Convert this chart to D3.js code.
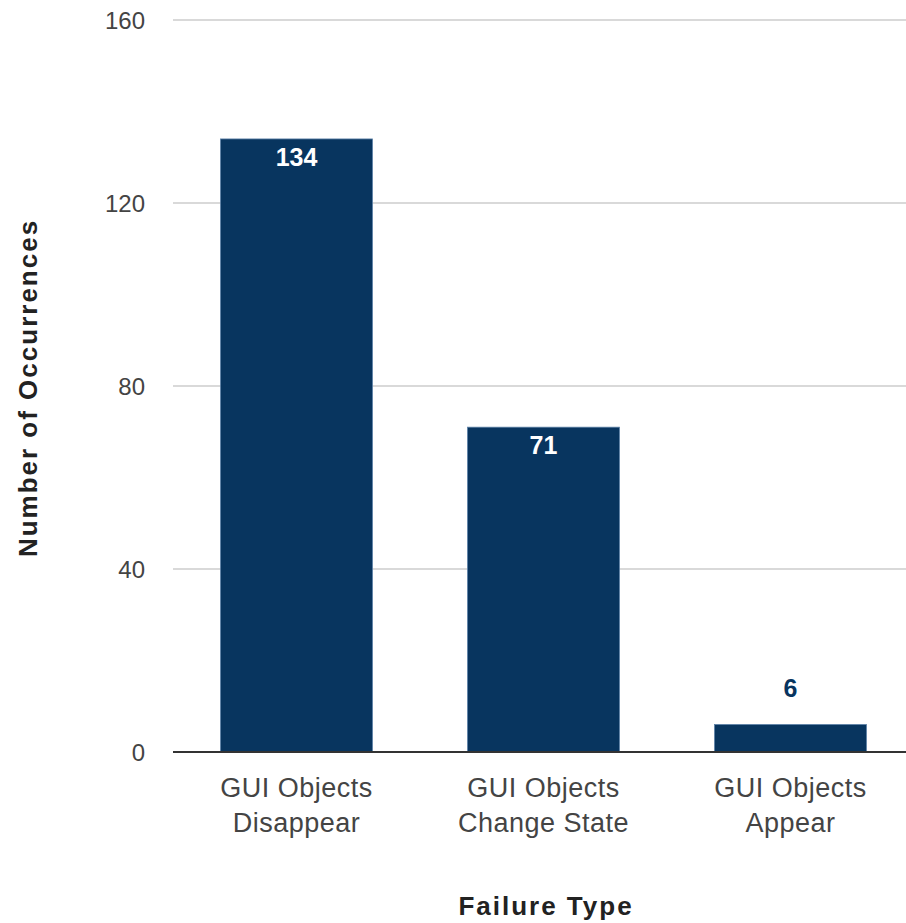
<!DOCTYPE html>
<html><head><meta charset="utf-8">
<script src="https://cdn.jsdelivr.net/npm/d3@7"></script>
<style>body{margin:0;background:#fff}svg{display:block}</style>
</head><body>
<svg id="c" width="906" height="923"></svg>
<script>
const categories = [["GUI Objects","Disappear"],["GUI Objects","Change State"],["GUI Objects","Appear"]];
const values = [134, 71, 6];
const yTicks = [0, 40, 80, 120, 160];
const yTitle = "Number of Occurrences";
const xTitle = "Failure Type";

(function () {
const svg = d3.select("#c");
const font = "Liberation Sans, Arial, sans-serif";
const mLeft = 173, mRight = 914, mTop = 20, mBottom = 752;
const x = d3.scaleBand().domain(d3.range(values.length)).range([mLeft, mRight]).paddingInner(0.385).paddingOuter(0.1925);
const y = d3.scaleLinear().domain([0, 160]).range([mBottom, mTop]);

svg.append("g").selectAll("line").data(yTicks.filter(t => t > 0)).join("line")
  .attr("x1", mLeft).attr("x2", 906).attr("y1", d => y(d)).attr("y2", d => y(d))
  .attr("stroke", "#cccccc").attr("stroke-width", 1.3);

svg.append("g").selectAll("text").data(yTicks).join("text")
  .attr("x", 145).attr("y", d => y(d)).attr("dy", "0.36em")
  .attr("text-anchor", "end").attr("font-family", font).attr("font-size", 24)
  .attr("fill", "#444").text(d => d);

svg.append("g").selectAll("rect").data(values).join("rect")
  .attr("x", (d, i) => x(i)).attr("width", x.bandwidth())
  .attr("y", d => y(d)).attr("height", d => y(0) - y(d))
  .attr("fill", "#08355f").attr("stroke", "#5a7fa6").attr("stroke-width", 0.8);

svg.append("line").attr("x1", mLeft).attr("x2", 906).attr("y1", y(0)).attr("y2", y(0))
  .attr("stroke", "#333").attr("stroke-width", 2);

svg.append("g").selectAll("text").data(values).join("text")
  .attr("x", (d, i) => x(i) + x.bandwidth() / 2)
  .attr("y", d => (y(0) - y(d) > 40) ? y(d) + 27 : y(d) - 28)
  .attr("text-anchor", "middle").attr("font-family", font).attr("font-size", 25).attr("font-weight", "bold")
  .attr("fill", d => (y(0) - y(d) > 40) ? "#ffffff" : "#08355f")
  .text(d => d);

const xl = svg.append("g").selectAll("text").data(categories).join("text")
  .attr("text-anchor", "middle").attr("font-family", font).attr("font-size", 27)
  .attr("letter-spacing", 0.5).attr("fill", "#444");
xl.each(function(d, i) {
  const t = d3.select(this);
  d.forEach((line, j) => {
    t.append("tspan").attr("x", x(i) + x.bandwidth() / 2).attr("y", 797 + j * 35).text(line);
  });
});

svg.append("text").attr("x", 546).attr("y", 915).attr("text-anchor", "middle")
  .attr("font-family", font).attr("font-size", 26).attr("font-weight", "bold").attr("letter-spacing", 2)
  .attr("fill", "#222").text(xTitle);
svg.append("text").attr("transform", "translate(37,388) rotate(-90)").attr("text-anchor", "middle")
  .attr("font-family", font).attr("font-size", 26).attr("font-weight", "bold").attr("letter-spacing", 2)
  .attr("fill", "#222").text(yTitle);
})();
</script>
</body></html>
